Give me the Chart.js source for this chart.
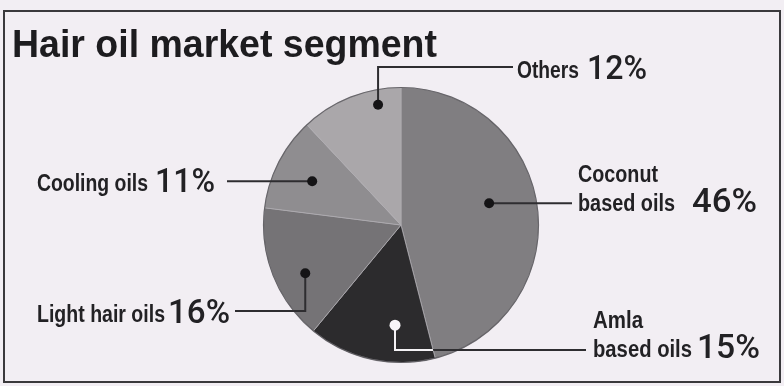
<!DOCTYPE html>
<html>
<head>
<meta charset="utf-8">
<script src="https://cdn.jsdelivr.net/npm/chart.js@4"></script>
<style>
  html, body { margin: 0; padding: 0; background: #f2eef3; }
  #wrap { width: 784px; height: 386px; }
</style>
</head>
<body>
<div id="wrap"><canvas id="oilChart" width="784" height="386"></canvas></div>
<script>
// segments clockwise from 12 o'clock
var categories = [['Coconut', 'based oils'], ['Amla', 'based oils'], 'Light hair oils', 'Cooling oils', 'Others'];
var shares = [46, 15, 16, 11, 12];
var sliceColors = ['#807e81', '#2c2b2d', '#757376', '#8f8d90', '#aaa7aa'];
var chartTitle = 'Hair oil market segment';

// callout layout: dot = [fraction along the arc, fraction of radius], route = elbow legs
var callouts = [
    { dot: [0.46, 0.66], route: [['h', 572]], name: { x: 578, y: [182, 211], w: [80, 97] }, pct: { x: 692, y: 212, w: 65 } },
    { dot: [0.33, 0.73], light: true, route: [['v', 350], ['h', 586]], name: { x: 593, y: [328, 357], w: [50, 99] }, pct: { x: 697, y: 358, w: 63 } },
    { dot: [0.41, 0.78], route: [['v', 311], ['h', 235]], name: { x: 37, y: [322], w: [128] }, pct: { x: 168, y: 323, w: 62 } },
    { dot: [0.48, 0.72], route: [['h', 227]], name: { x: 37, y: [191], w: [111] }, pct: { x: 155, y: 192, w: 60 } },
    { dot: [0.75, 0.89], route: [['v', 67], ['h', 513]], name: { x: 517, y: [78], w: [62] }, pct: { x: 587, y: 79, w: 60 } }
];

var INK = '#222124';

// draws text squeezed or stretched to a given width
function fitText(ctx, text, x, y, w) {
    var nat = ctx.measureText(text).width;
    ctx.save();
    ctx.translate(x, y);
    ctx.scale(w / nat, 1);
    ctx.fillText(text, 0, 0);
    ctx.restore();
}

function routePath(ctx, start, route) {
    var x = start.x, y = start.y;
    ctx.beginPath();
    ctx.moveTo(x, y);
    route.forEach(function(leg) {
        if (leg[0] === 'h') x = leg[1]; else y = leg[1];
        ctx.lineTo(x, y);
    });
}

var calloutPlugin = {
    id: 'callouts',
    afterDatasetsDraw: function(chart) {
        var ctx = chart.ctx;
        var meta = chart.getDatasetMeta(0);
        var first = meta.data[0];

        // darker rim round the pie
        ctx.save();
        ctx.beginPath();
        ctx.arc(first.x, first.y, first.outerRadius, 0, Math.PI * 2);
        ctx.strokeStyle = 'rgba(70,68,72,0.7)';
        ctx.lineWidth = 1.2;
        ctx.stroke();
        ctx.restore();

        meta.data.forEach(function(arc, i) {
            var c = callouts[i];
            var ang = arc.startAngle + c.dot[0] * (arc.endAngle - arc.startAngle);
            var r = arc.outerRadius * c.dot[1];
            var p = { x: arc.x + Math.cos(ang) * r, y: arc.y + Math.sin(ang) * r };

            ctx.save();
            ctx.lineWidth = 2;
            ctx.strokeStyle = '#2e2d30';
            routePath(ctx, p, c.route);
            ctx.stroke();
            if (c.light) {
                // leader turns white inside the dark slice
                ctx.save();
                ctx.beginPath();
                ctx.moveTo(arc.x, arc.y);
                ctx.arc(arc.x, arc.y, arc.outerRadius, arc.startAngle, arc.endAngle);
                ctx.closePath();
                ctx.clip();
                ctx.strokeStyle = '#f4f2f5';
                routePath(ctx, p, c.route);
                ctx.stroke();
                ctx.restore();
            }
            ctx.beginPath();
            ctx.arc(p.x, p.y, c.light ? 5.5 : 5, 0, Math.PI * 2);
            ctx.fillStyle = c.light ? '#f7f5f8' : '#151416';
            ctx.fill();

            // category name and share
            ctx.fillStyle = INK;
            ctx.textBaseline = 'alphabetic';
            ctx.font = 'bold 23px "Liberation Sans", Arial, sans-serif';
            var lines = [].concat(chart.data.labels[i]);
            lines.forEach(function(line, k) {
                fitText(ctx, line, c.name.x, c.name.y[k], c.name.w[k]);
            });
            ctx.font = '500 34px Roboto, "Liberation Sans", sans-serif';
            fitText(ctx, chart.data.datasets[0].data[i] + '%', c.pct.x, c.pct.y, c.pct.w);
            ctx.restore();
        });
    },
    afterDraw: function(chart) {
        var ctx = chart.ctx;
        ctx.save();
        ctx.fillStyle = '#1d1c1f';
        ctx.font = 'bold 38px "Liberation Sans", Arial, sans-serif';
        fitText(ctx, chartTitle, 12, 57, 425);
        ctx.strokeStyle = '#3a393c';
        ctx.lineWidth = 2;
        ctx.strokeRect(4, 11, 776, 371);
        ctx.restore();
    }
};

new Chart(document.getElementById('oilChart').getContext('2d'), {
    type: 'pie',
    data: {
        labels: categories,
        datasets: [{
            data: shares,
            backgroundColor: sliceColors,
            borderColor: 'rgba(175,172,177,0.75)',
            borderWidth: 1
        }]
    },
    options: {
        responsive: false,
        animation: false,
        devicePixelRatio: 1,
        layout: { padding: { top: 87, bottom: 23, left: 18, right: 0 } },
        plugins: {
            legend: { display: false },
            tooltip: { enabled: false },
            title: { display: false }
        }
    },
    plugins: [calloutPlugin]
});
</script>
</body>
</html>
